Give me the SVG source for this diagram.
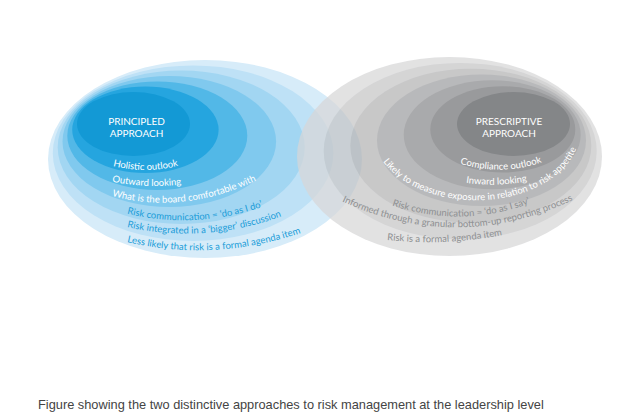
<svg xmlns="http://www.w3.org/2000/svg" width="624" height="416" viewBox="0 0 624 416">
<style>
.lbl{font-family:Lato,"Open Sans","DejaVu Sans",sans-serif;font-size:9.5px}
.w{fill:#ffffff}
.b{fill:#1a9cd8}
.g{fill:#8d8f91}
.title{font-family:Lato,"Open Sans","DejaVu Sans",sans-serif;font-size:10px;fill:#ffffff;text-anchor:middle}
.cap{font-family:"Liberation Sans",Arial,sans-serif;font-size:12.8px;fill:#444444}
</style>
<defs>
<path id="t1" d="M113,166 Q151.5,175.6 190,162.1"/>
<path id="t2" d="M112,181.6 Q153.5,190.1 195,182.2"/>
<path id="t3" d="M112,196 Q187,215.5 262,177.6"/>
<path id="t4" d="M127,213.6 Q201,231.3 275,202.3"/>
<path id="t5" d="M127,227 Q213.5,246.3 300,209"/>
<path id="t6" d="M127,242 Q223.5,264.5 320,225.9"/>
<path id="r1" d="M460,163.6 Q505,177.6 550,159.3"/>
<path id="r2" d="M466,182.8 Q500.5,187.6 535,179.6"/>
<path id="r3" d="M383,161.6 A104 70 0 0 0 580,130"/>
<path id="r4" d="M392,205.4 Q468.5,231.2 545,197.2"/>
<path id="r5" d="M342,201.4 Q466,257.9 590,191.5"/>
<path id="r6" d="M387,240 Q456,247.4 525,230"/>
</defs>
<rect width="624" height="416" fill="#ffffff"/>
<g id="principled">
<ellipse cx="205" cy="159" rx="157" ry="99" fill="#d7ecf9"/>
<ellipse cx="193.1" cy="153.2" rx="140.3" ry="87.8" fill="#bee1f6"/>
<ellipse cx="181.2" cy="147.3" rx="123.5" ry="76.7" fill="#a2d6f2"/>
<ellipse cx="169.3" cy="141.5" rx="106.8" ry="65.5" fill="#80c9ee"/>
<ellipse cx="157.3" cy="135.7" rx="90" ry="54.3" fill="#52b8e7"/>
<ellipse cx="145.4" cy="129.8" rx="73.2" ry="43.2" fill="#25a5df"/>
<ellipse cx="133.5" cy="124" rx="56.5" ry="32" fill="#1399d5"/>
</g>
<g id="prescriptive">
<g opacity="0.72">
<ellipse cx="449.5" cy="156.5" rx="152.5" ry="99.5" fill="#d7d7d8"/>
<ellipse cx="460.2" cy="151.1" rx="136.5" ry="88.2" fill="#c5c5c6"/>
<ellipse cx="470.8" cy="145.7" rx="120.5" ry="77" fill="#b3b3b4"/>
<ellipse cx="481.5" cy="140.3" rx="104.5" ry="65.8" fill="#9e9fa1"/>
<ellipse cx="492.2" cy="134.8" rx="88.5" ry="54.5" fill="#898a8d"/>
<ellipse cx="502.8" cy="129.4" rx="72.5" ry="43.2" fill="#737477"/>
<ellipse cx="513.5" cy="124" rx="56.5" ry="32" fill="#55585b"/>
</g>
</g>
<g id="principled-labels">
<text class="title" x="136.5" y="125">PRINCIPLED</text>
<text class="title" x="136.5" y="137.3">APPROACH</text>
<text class="lbl w"><textPath href="#t1">Holistic outlook</textPath></text>
<text class="lbl w"><textPath href="#t2">Outward looking</textPath></text>
<text class="lbl w"><textPath href="#t3">What is the board comfortable with</textPath></text>
<text class="lbl b"><textPath href="#t4">Risk communication = ‘do as I do’</textPath></text>
<text class="lbl b"><textPath href="#t5">Risk integrated in a ‘bigger’ discussion</textPath></text>
<text class="lbl b"><textPath href="#t6">Less likely that risk is a formal agenda item</textPath></text>
</g>
<g id="prescriptive-labels">
<text class="title" x="509" y="125">PRESCRIPTIVE</text>
<text class="title" x="509" y="137.3">APPROACH</text>
<text class="lbl w"><textPath href="#r1">Compliance outlook</textPath></text>
<text class="lbl w"><textPath href="#r2">Inward looking</textPath></text>
<text class="lbl w"><textPath href="#r3">Likely to measure exposure in relation to risk appetite</textPath></text>
<text class="lbl g"><textPath href="#r4">Risk communication = ‘do as I say’</textPath></text>
<text class="lbl g"><textPath href="#r5">Informed through a granular bottom-up reporting process</textPath></text>
<text class="lbl g"><textPath href="#r6">Risk is a formal agenda item</textPath></text>
</g>
<g id="connectors"/>
<text class="cap" x="38" y="409">Figure showing the two distinctive approaches to risk management at the leadership level</text>
</svg>
